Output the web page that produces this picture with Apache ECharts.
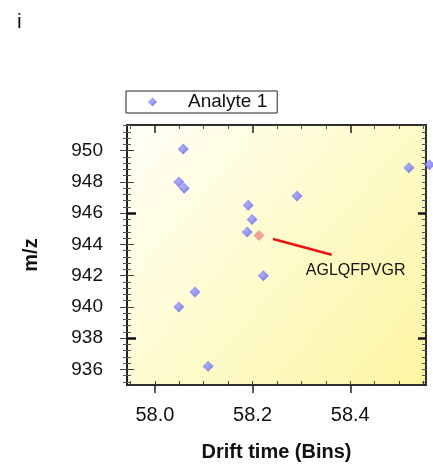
<!DOCTYPE html>
<html><head><meta charset="utf-8">
<script src="https://cdn.jsdelivr.net/npm/echarts@6/dist/echarts.min.js"></script>
<style>html,body{margin:0;padding:0;background:#fff}#c{width:433px;height:465px}</style>
</head><body><div id="c"></div>
<script>
const seriesName = 'Analyte 1';
const blueX = [58.058, 58.049, 58.060, 58.191, 58.199, 58.189, 58.291, 58.520, 58.562, 58.222, 58.082, 58.049, 58.109];
const blueY = [950.1, 948.0, 947.6, 946.5, 945.6, 944.8, 947.1, 948.9, 949.1, 942.0, 940.95, 940.0, 936.2];
const redX = [58.213];
const redY = [944.57];
const peptide = 'AGLQFPVGR';
const xTicks = [58.0, 58.2, 58.4];
const yTicks = [936, 938, 940, 942, 944, 946, 948, 950];
const bigYTicks = [938, 946];

const FONT = 'Liberation Sans, Arial, sans-serif';
const xMin = 57.943, xMax = 58.555, yMin = 935.0, yMax = 951.64;

const chart = echarts.init(document.getElementById('c'), null, {renderer: 'canvas'});
const grid = {left: 127, right: 7, top: 125, bottom: 80, show: true, borderWidth: 0,
  containLabel: false, outerBoundsMode: 'none',
  backgroundColor: new echarts.graphic.LinearGradient(0, 0, 1, 1, [
    {offset: 0, color: '#fffff8'}, {offset: 0.5, color: '#fefbcc'}, {offset: 1, color: '#fcf5a2'}])};

const baseX = {type: 'value', min: xMin, max: xMax, splitLine: {show: false},
  axisLine: {show: true, onZero: false, lineStyle: {color: '#222', width: 1.5}}};
const baseY = {type: 'value', min: yMin, max: yMax, splitLine: {show: false},
  axisLine: {show: true, onZero: false, lineStyle: {color: '#222', width: 1.5}}};

const minorY = [935.2,935.6,936.4,936.8,937.2,937.6,938.4,938.8,939.2,939.6,940.4,940.8,941.2,941.6,942.4,942.8,943.2,943.6,944.4,944.8,945.2,945.6,946.4,946.8,947.2,947.6,948.4,948.8,949.2,949.6,950.4,950.8,951.2,951.6];
const allY = minorY.concat(yTicks).sort((a, b) => a - b);

const option = {
  animation: false,
  textStyle: {fontFamily: FONT},
  grid: grid,
  legend: {
    data: [seriesName], left: 126, top: 91, orient: 'horizontal',
    backgroundColor: '#fff', borderColor: '#222', borderWidth: 1, borderRadius: 0,
    padding: [1, 10, 1, 22], itemWidth: 9, itemHeight: 9, icon: 'diamond',
    textStyle: {fontFamily: FONT, fontSize: 19, lineHeight: 20, color: '#111', padding: [0, 0, 0, 26]}
  },
  xAxis: [
    Object.assign({}, baseX, {position: 'bottom',
      name: 'Drift time (Bins)', nameLocation: 'middle', nameGap: 57,
      nameTextStyle: {fontFamily: FONT, fontSize: 20, fontWeight: 'bold', color: '#111'},
      axisTick: {show: true, inside: false, length: 8, lineStyle: {color: '#222', width: 1.5}, customValues: xTicks},
      minorTick: {show: false},
      axisLabel: {customValues: xTicks, fontFamily: FONT, fontSize: 20, color: '#111', margin: 20,
        formatter: v => v.toFixed(1)}}),
    Object.assign({}, baseX, {position: 'bottom',
      axisTick: {show: true, inside: true, length: 4, lineStyle: {color: '#444', width: 1},
        customValues: [57.95,58.0,58.05,58.1,58.15,58.2,58.25,58.3,58.35,58.4,58.45,58.5,58.55]},
      axisLabel: {show: false}}),
    Object.assign({}, baseX, {position: 'top',
      axisTick: {show: true, inside: true, length: 8, lineStyle: {color: '#222', width: 1.5}, customValues: xTicks},
      axisLabel: {show: false}}),
    Object.assign({}, baseX, {position: 'top',
      axisTick: {show: true, inside: true, length: 4, lineStyle: {color: '#555', width: 1},
        customValues: [57.95,58.05,58.1,58.15,58.25,58.3,58.35,58.45,58.5,58.55]},
      axisLabel: {show: false}})
  ],
  yAxis: [
    Object.assign({}, baseY, {position: 'left',
      name: 'm/z', nameLocation: 'middle', nameGap: 86, nameRotate: 90,
      nameTextStyle: {fontFamily: FONT, fontSize: 20, fontWeight: 'bold', color: '#111'},
      axisTick: {show: true, inside: false, length: 7, lineStyle: {color: '#444', width: 1}, customValues: yTicks},
      axisLabel: {customValues: yTicks, fontFamily: FONT, fontSize: 19, color: '#111', margin: 24}}),
    Object.assign({}, baseY, {position: 'left',
      axisTick: {show: true, inside: true, length: 7, lineStyle: {color: '#444', width: 1}, customValues: yTicks},
      axisLabel: {show: false}}),
    Object.assign({}, baseY, {position: 'left',
      axisTick: {show: true, inside: false, length: 4, lineStyle: {color: '#555', width: 1}, customValues: minorY},
      axisLabel: {show: false}}),
    Object.assign({}, baseY, {position: 'left',
      axisTick: {show: true, inside: true, length: 4, lineStyle: {color: '#555', width: 1}, customValues: minorY},
      axisLabel: {show: false}}),
    Object.assign({}, baseY, {position: 'left',
      axisTick: {show: true, inside: true, length: 9, lineStyle: {color: '#111', width: 2.5}, customValues: bigYTicks},
      axisLabel: {show: false}}),
    Object.assign({}, baseY, {position: 'right',
      axisTick: {show: true, inside: true, length: 4, lineStyle: {color: '#555', width: 1}, customValues: allY},
      axisLabel: {show: false}}),
    Object.assign({}, baseY, {position: 'right',
      axisTick: {show: true, inside: true, length: 8, lineStyle: {color: '#111', width: 2.5}, customValues: bigYTicks},
      axisLabel: {show: false}})
  ],
  series: [
    {
      name: seriesName, type: 'scatter', xAxisIndex: 0, yAxisIndex: 0, clip: false,
      symbol: 'diamond', symbolSize: 11,
      itemStyle: {color: new echarts.graphic.RadialGradient(0.4, 0.4, 0.7, [
        {offset: 0, color: '#9a9cff'}, {offset: 1, color: '#5454e8'}])},
      data: blueX.map((x, i) => [x, blueY[i]])
    },
    {
      name: 'highlight', type: 'scatter', xAxisIndex: 0, yAxisIndex: 0, clip: false,
      symbol: 'diamond', symbolSize: 11,
      itemStyle: {color: '#f08c88'},
      data: redX.map((x, i) => [x, redY[i]]),
      markLine: {
        silent: true, symbol: 'none', animation: false,
        lineStyle: {color: '#ee1111', width: 2.5, type: 'solid'},
        label: {show: false},
        data: [[{coord: [58.242, 944.34]}, {coord: [58.362, 943.34]}]]
      },
      markPoint: {
        silent: true, symbol: 'circle', symbolSize: 1, itemStyle: {color: 'rgba(0,0,0,0)'},
        label: {show: true, formatter: peptide, fontFamily: FONT, fontSize: 16, color: '#111', position: 'inside'},
        data: [{coord: [58.411, 942.35]}]
      }
    }
  ],
  graphic: [
    {type: 'text', left: 17, top: 12, style: {text: 'i', fontFamily: FONT, fontSize: 21, fill: '#111'}}
  ]
};
chart.setOption(option);
</script></body></html>
